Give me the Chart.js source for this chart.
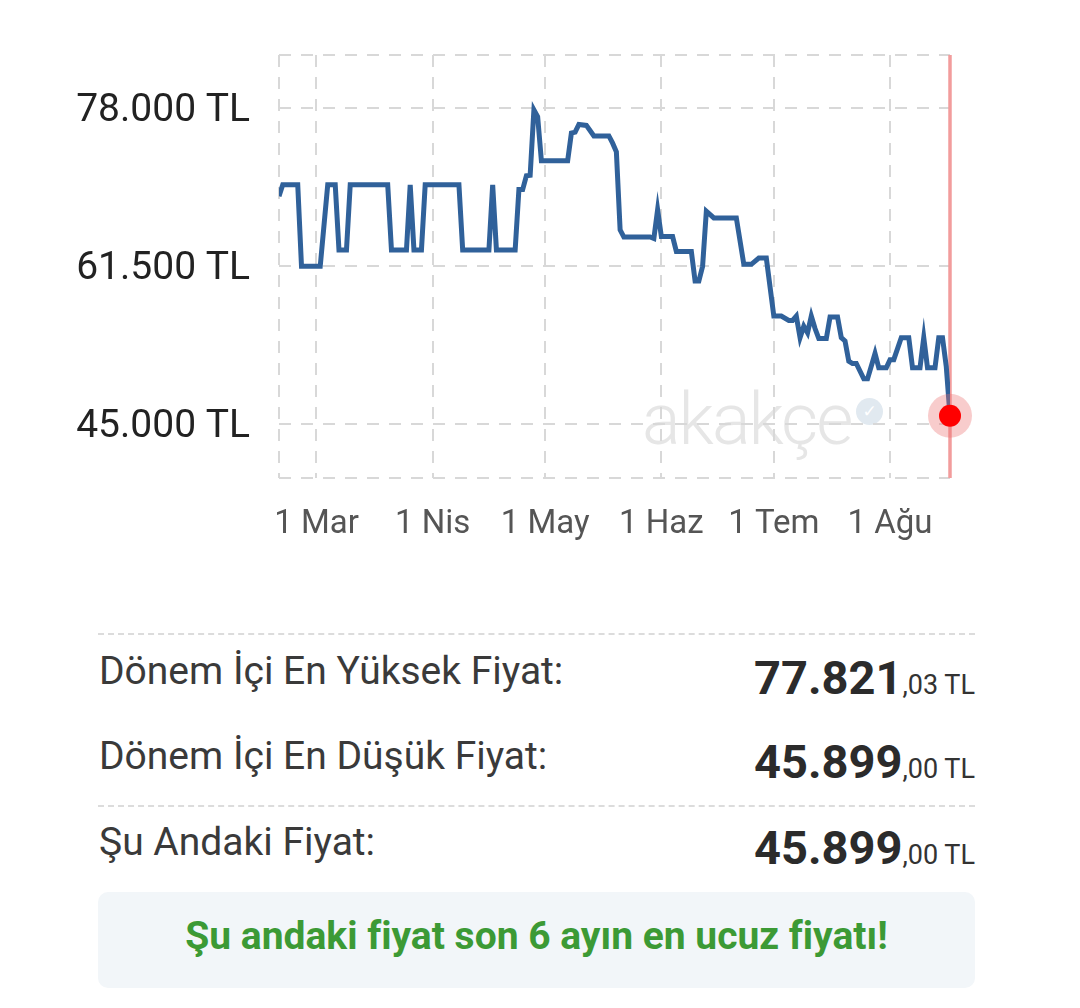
<!DOCTYPE html>
<html lang="tr">
<head>
<meta charset="utf-8">
<script src="https://cdn.jsdelivr.net/npm/chart.js@4.4.1/dist/chart.umd.min.js"></script>
<style>
  body { margin: 0; background: #fff; font-family: Roboto, "Noto Sans", sans-serif; }
  #page { position: relative; width: 1080px; height: 1008px; overflow: hidden; }
  #chartBox { position: absolute; left: 0; top: 0; width: 1080px; height: 570px; }
  #mark { position: absolute; left: 642px; top: 384px; font-size: 72px; font-weight: 300; line-height: 1;
          color: #e6e6e6; letter-spacing: -2px; }
  #badge { position: absolute; left: 856px; top: 398px; width: 27px; height: 27px; border-radius: 50%;
           background: #e1e9f0; color: #fff; font: bold 17px "DejaVu Sans", sans-serif; line-height: 27px; text-align: center; }
  .sep { position: absolute; left: 98px; width: 877px; border-top: 2px dashed #dcdcdc; }
  .lab { position: absolute; left: 99px; font-size: 39px; line-height: 1; color: #3a3a3a; }
  .val { position: absolute; right: 105px; font-size: 47px; font-weight: bold; line-height: 1; color: #2b2b2b; }
  .val small { font-size: 27px; font-weight: normal; color: #333; }
  #note { position: absolute; left: 98px; top: 892px; width: 877px; height: 96px; border-radius: 10px; background: #f2f6f9; }
  #noteText { position: absolute; left: 98px; width: 877px; top: 917px; text-align: center; font-size: 39px;
              font-weight: bold; line-height: 1; color: #3c9a35; }
</style>
</head>
<body>
<div id="page">
  <div id="mark">akakçe</div>
  <div id="badge">✓</div>
  <div id="chartBox"><canvas id="priceChart"></canvas></div>

  <div class="sep" style="top:633px"></div>
  <div class="lab" style="top:652px">Dönem İçi En Yüksek Fiyat:</div>
  <div class="val" style="top:654px">77.821<small>,03 TL</small></div>
  <div class="lab" style="top:737px">Dönem İçi En Düşük Fiyat:</div>
  <div class="val" style="top:738px">45.899<small>,00 TL</small></div>
  <div class="sep" style="top:805px"></div>
  <div class="lab" style="top:823px">Şu Andaki Fiyat:</div>
  <div class="val" style="top:824px">45.899<small>,00 TL</small></div>
  <div id="note"></div>
  <div id="noteText">Şu andaki fiyat son 6 ayın en ucuz fiyatı!</div>
</div>

<script>
// fiyat geçmişi (gün, fiyat)
const dates = [
  "2024-02-20", "2024-02-21", "2024-02-25", "2024-02-26", "2024-03-02", "2024-03-04", "2024-03-06", "2024-03-07",
  "2024-03-09", "2024-03-10", "2024-03-20", "2024-03-21", "2024-03-25", "2024-03-26", "2024-03-27", "2024-03-29",
  "2024-03-30", "2024-04-08", "2024-04-09", "2024-04-16", "2024-04-17", "2024-04-18", "2024-04-23", "2024-04-24",
  "2024-04-25", "2024-04-26", "2024-04-27", "2024-04-28", "2024-04-29", "2024-04-30", "2024-05-07", "2024-05-08",
  "2024-05-09", "2024-05-10", "2024-05-12", "2024-05-14", "2024-05-18", "2024-05-19", "2024-05-20", "2024-05-21",
  "2024-05-22", "2024-05-29", "2024-05-30", "2024-05-31", "2024-06-01", "2024-06-04", "2024-06-05", "2024-06-09",
  "2024-06-10", "2024-06-11", "2024-06-12", "2024-06-13", "2024-06-15", "2024-06-21", "2024-06-23", "2024-06-25",
  "2024-06-27", "2024-06-29", "2024-07-01", "2024-07-03", "2024-07-05", "2024-07-06", "2024-07-07", "2024-07-08",
  "2024-07-09", "2024-07-10", "2024-07-11", "2024-07-12", "2024-07-13", "2024-07-15", "2024-07-16", "2024-07-18",
  "2024-07-19", "2024-07-20", "2024-07-21", "2024-07-22", "2024-07-23", "2024-07-25", "2024-07-26", "2024-07-28",
  "2024-07-29", "2024-07-31", "2024-08-01", "2024-08-02", "2024-08-04", "2024-08-06", "2024-08-07", "2024-08-09",
  "2024-08-10", "2024-08-11", "2024-08-13", "2024-08-14", "2024-08-15", "2024-08-16", "2024-08-17"
];
const prices = [
  68800, 70000, 70000, 61500, 61500, 70000, 70000, 63200,
  63200, 70000, 70000, 63200, 63200, 70000, 63200, 63200,
  70000, 70000, 63200, 63200, 70000, 63200, 63200, 69500,
  69500, 70950, 71000, 77821, 77100, 72500, 72500, 75400,
  75500, 76300, 76200, 75100, 75100, 74350, 73450, 65300,
  64550, 64550, 64400, 67400, 64600, 64600, 63050, 63050,
  59950, 59950, 61500, 67250, 66550, 66550, 61700, 61700,
  62350, 62350, 56300, 56300, 55850, 55850, 56300, 54050,
  55250, 54550, 56300, 55000, 53950, 53950, 56200, 56200,
  54050, 53700, 51600, 51350, 51350, 49750, 49750, 52400,
  50900, 50900, 51750, 51750, 54050, 54050, 50900, 50900,
  54050, 50900, 50900, 54050, 54050, 51050, 45899
];
const monthTicks = ["2024-03-01", "2024-04-01", "2024-05-01", "2024-06-01", "2024-07-01", "2024-08-01"];
const monthLabels = ["1 Mar", "1 Nis", "1 May", "1 Haz", "1 Tem", "1 Ağu"];
const priceTicks = [45000, 61500, 78000];
const rangeStart = "2024-02-20";
const rangeEnd = "2024-08-17";
const priceMin = 39400;
const priceMax = 83550;

const dayNum = s => Date.parse(s + "T00:00:00Z") / 864e5;
const fmt = v => String(v).replace(/\B(?=(\d{3})+(?!\d))/g, ".") + " TL";

const points = dates.map((d, i) => ({ x: dayNum(d), y: prices[i] }));
const last = points[points.length - 1];
const monthDays = monthTicks.map(dayNum);

const markerLine = {
  id: "markerLine",
  beforeDatasetsDraw(chart) {
    const { ctx, chartArea, scales } = chart;
    const x = scales.x.getPixelForValue(last.x);
    ctx.save();
    ctx.strokeStyle = "#f29c9c";
    ctx.lineWidth = 3.5;
    ctx.beginPath();
    ctx.moveTo(x, chartArea.top);
    ctx.lineTo(x, chartArea.bottom);
    ctx.stroke();
    ctx.restore();
  }
};

new Chart(document.getElementById("priceChart"), {
  type: "line",
  data: {
    datasets: [{
      data: [last],
      showLine: false,
      pointRadius: 11,
      pointHoverRadius: 11,
      pointBackgroundColor: "#ff0000",
      pointBorderWidth: 0,
      clip: false,
      order: 0
    }, {
      data: [last],
      showLine: false,
      pointRadius: 22,
      pointHoverRadius: 22,
      pointBackgroundColor: "rgba(236, 110, 110, 0.35)",
      pointBorderWidth: 0,
      clip: false,
      order: 1
    }, {
      data: points,
      borderColor: "#30619a",
      borderWidth: 5,
      pointRadius: 0,
      tension: 0,
      fill: false,
      order: 2
    }]
  },
  options: {
    responsive: true,
    maintainAspectRatio: false,
    animation: false,
    layout: { padding: { top: 55, right: 130, left: 0, bottom: 0 } },
    plugins: { legend: { display: false }, tooltip: { enabled: false } },
    scales: {
      x: {
        type: "linear",
        min: dayNum(rangeStart),
        max: dayNum(rangeEnd),
        afterBuildTicks: s => {
          s.ticks = [dayNum(rangeStart), ...monthDays, dayNum(rangeEnd)].map(v => ({ value: v }));
        },
        afterFit: s => { s.height = 92; },
        grid: { color: "#d8d8d8", lineWidth: 2, drawTicks: false },
        border: { display: false, dash: [12, 10] },
        ticks: {
          autoSkip: false,
          maxRotation: 0,
          padding: 27,
          color: "#555",
          font: { family: "Roboto", size: 33 },
          callback: v => {
            const i = monthDays.indexOf(v);
            return i >= 0 ? monthLabels[i] : "";
          }
        }
      },
      y: {
        min: priceMin,
        max: priceMax,
        afterBuildTicks: s => {
          s.ticks = [priceMin, ...priceTicks, priceMax].map(v => ({ value: v }));
        },
        afterFit: s => { s.width = 279; },
        grid: { color: "#d8d8d8", lineWidth: 2, drawTicks: false },
        border: { display: false, dash: [12, 10] },
        ticks: {
          padding: 29,
          labelOffset: 3,
          color: "#222",
          font: { family: "Roboto", size: 39 },
          callback: v => priceTicks.includes(v) ? fmt(v) : ""
        }
      }
    }
  },
  plugins: [markerLine]
});
</script>
</body>
</html>
